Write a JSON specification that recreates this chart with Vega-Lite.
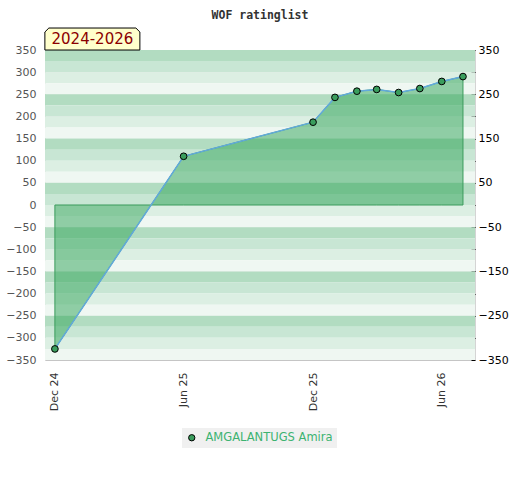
{
  "$schema": "https://vega.github.io/schema/vega-lite/v6.json",
  "width": 430,
  "height": 310,
  "autosize": "none",
  "padding": {"left": 45, "top": 50, "right": 45, "bottom": 120},
  "background": "white",
  "title": {"text": "WOF ratinglist", "font": "DejaVu Sans Mono", "fontSize": 11.5, "fontWeight": "bold", "color": "#333333", "frame": "group", "anchor": "middle", "offset": 5},
  "config": {
    "view": {"stroke": "#d4d4d4", "strokeWidth": 1},
    "axis": {"labelFont": "DejaVu Sans", "labelFontSize": 11},
    "axisBottom": {"ticks": false, "domain": false, "grid": false, "labelAngle": 270, "labelColor": "#333333", "labelPadding": 12, "format": "%b %y"},
    "axisLeft": {"ticks": false, "domain": false, "grid": true, "gridColor": "#000000", "gridOpacity": 0.07, "labelColor": "#555555", "labelPadding": 9, "zindex": 1},
    "axisRight": {"ticks": true, "tickSize": -4, "tickOffset": 0, "tickColor": "#000000", "domain": false, "grid": false, "labelColor": "#000000", "labelPadding": 7, "zindex": 1}
  },
  "datasets": {
    "ratings": [
      {"date": "2024-12-01T00:00", "rating": -325, "player": "AMGALANTUGS Amira"},
      {"date": "2025-06-01T00:00", "rating": 110, "player": "AMGALANTUGS Amira"},
      {"date": "2025-12-01T00:00", "rating": 187, "player": "AMGALANTUGS Amira"},
      {"date": "2026-01-01T00:00", "rating": 243, "player": "AMGALANTUGS Amira"},
      {"date": "2026-02-01T00:00", "rating": 257, "player": "AMGALANTUGS Amira"},
      {"date": "2026-03-01T00:00", "rating": 261, "player": "AMGALANTUGS Amira"},
      {"date": "2026-04-01T00:00", "rating": 254, "player": "AMGALANTUGS Amira"},
      {"date": "2026-05-01T00:00", "rating": 263, "player": "AMGALANTUGS Amira"},
      {"date": "2026-06-01T00:00", "rating": 279, "player": "AMGALANTUGS Amira"},
      {"date": "2026-07-01T00:00", "rating": 290, "player": "AMGALANTUGS Amira"}
    ],
    "bands": [
      {"lo": 325, "hi": 350, "tone": 0}, {"lo": 300, "hi": 325, "tone": 1}, {"lo": 275, "hi": 300, "tone": 2}, {"lo": 250, "hi": 275, "tone": 3},
      {"lo": 225, "hi": 250, "tone": 0}, {"lo": 200, "hi": 225, "tone": 1}, {"lo": 175, "hi": 200, "tone": 2}, {"lo": 150, "hi": 175, "tone": 3},
      {"lo": 125, "hi": 150, "tone": 0}, {"lo": 100, "hi": 125, "tone": 1}, {"lo": 75, "hi": 100, "tone": 2}, {"lo": 50, "hi": 75, "tone": 3},
      {"lo": 25, "hi": 50, "tone": 0}, {"lo": 0, "hi": 25, "tone": 1}, {"lo": -25, "hi": 0, "tone": 2}, {"lo": -50, "hi": -25, "tone": 3},
      {"lo": -75, "hi": -50, "tone": 0}, {"lo": -100, "hi": -75, "tone": 1}, {"lo": -125, "hi": -100, "tone": 2}, {"lo": -150, "hi": -125, "tone": 3},
      {"lo": -175, "hi": -150, "tone": 0}, {"lo": -200, "hi": -175, "tone": 1}, {"lo": -225, "hi": -200, "tone": 2}, {"lo": -250, "hi": -225, "tone": 3},
      {"lo": -275, "hi": -250, "tone": 0}, {"lo": -300, "hi": -275, "tone": 1}, {"lo": -325, "hi": -300, "tone": 2}, {"lo": -350, "hi": -325, "tone": 3}
    ],
    "tag": [{"label": "2024-2026"}]
  },
  "layer": [
    {
      "data": {"name": "bands"},
      "mark": {"type": "rect"},
      "encoding": {
        "y": {"field": "lo", "type": "quantitative", "scale": {"domain": [-350, 350], "nice": false, "zero": false}, "axis": {"orient": "left", "title": null, "values": [-350, -300, -250, -200, -150, -100, -50, 0, 50, 100, 150, 200, 250, 300, 350]}},
        "y2": {"field": "hi"},
        "fill": {"field": "tone", "type": "ordinal", "scale": {"domain": [0, 1, 2, 3], "range": ["#b2dcc1", "#c8e6d4", "#dcefe3", "#eff7f2"]}, "legend": null}
      }
    },
    {
      "data": {"name": "ratings"},
      "mark": {"type": "area", "fill": "#2fa358", "fillOpacity": 0.5, "stroke": "#3b9b5c", "strokeWidth": 1},
      "encoding": {
        "x": {"field": "date", "type": "temporal", "scale": {"domain": [{"year": 2024, "month": 11, "date": 17}, {"year": 2026, "month": 7, "date": 18}]}, "axis": {"title": null, "values": [{"year": 2024, "month": 12, "date": 1}, {"year": 2025, "month": 6, "date": 1}, {"year": 2025, "month": 12, "date": 1}, {"year": 2026, "month": 6, "date": 1}]}},
        "y": {"field": "rating", "type": "quantitative", "scale": {"domain": [-350, 350], "nice": false, "zero": false}, "axis": {"orient": "right", "title": null, "values": [-350, -300, -250, -200, -150, -100, -50, 0, 50, 100, 150, 200, 250, 300, 350], "labelExpr": "datum.value % 100 != 0 ? datum.label : ''"}},
        "y2": {"datum": 0}
      }
    },
    {
      "data": {"name": "ratings"},
      "mark": {"type": "line", "color": "#62a9dc", "strokeWidth": 1.5},
      "encoding": {
        "x": {"field": "date", "type": "temporal", "axis": {"title": null}},
        "y": {"field": "rating", "type": "quantitative", "scale": {"domain": [-350, 350], "nice": false, "zero": false}, "axis": null}
      }
    },
    {
      "data": {"name": "ratings"},
      "mark": {"type": "point", "filled": true, "size": 45, "stroke": "#000000", "strokeWidth": 1, "opacity": 1},
      "encoding": {
        "x": {"field": "date", "type": "temporal", "axis": {"title": null}},
        "y": {"field": "rating", "type": "quantitative", "scale": {"domain": [-350, 350], "nice": false, "zero": false}, "axis": null},
        "color": {"field": "player", "type": "nominal", "scale": {"range": ["#3a9d5d"]}, "legend": {"title": null, "orient": "none", "legendX": 137, "legendY": 378, "fillColor": "#f0f0f0", "padding": 4, "symbolType": "circle", "symbolSize": 40, "symbolStrokeColor": "#000000", "symbolStrokeWidth": 1, "labelColor": "#3cb371", "labelFont": "DejaVu Sans", "labelFontSize": 11.5, "labelOffset": 8}}
      }
    },
    {
      "data": {"name": "tag"},
      "mark": {"type": "point", "shape": "M-1,0.2316L-1,-0.148L-0.916,-0.2316L0.916,-0.2316L1,-0.148L1,0.2316Z", "size": 9025, "filled": true, "fill": "#ffffcc", "stroke": "#000000", "strokeWidth": 1, "opacity": 1},
      "encoding": {
        "x": {"datum": {"year": 2025, "month": 1, "date": 23}, "type": "temporal", "axis": {"title": null}},
        "y": {"datum": 374.8, "type": "quantitative", "scale": {"domain": [-350, 350], "nice": false, "zero": false}, "axis": null}
      }
    },
    {
      "data": {"name": "tag"},
      "mark": {"type": "text", "font": "DejaVu Sans", "fontSize": 15, "color": "#8b0000", "align": "center", "baseline": "middle"},
      "encoding": {
        "text": {"field": "label", "type": "nominal"},
        "x": {"datum": {"year": 2025, "month": 1, "date": 23}, "type": "temporal", "axis": {"title": null}},
        "y": {"datum": 374.8, "type": "quantitative", "scale": {"domain": [-350, 350], "nice": false, "zero": false}, "axis": null}
      }
    }
  ],
  "resolve": {"axis": {"y": "independent"}}
}
